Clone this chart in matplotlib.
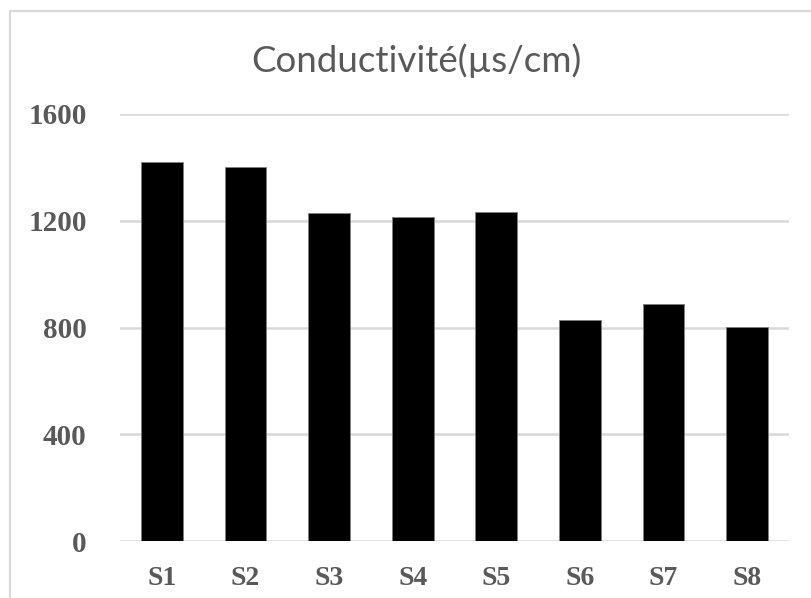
import matplotlib
matplotlib.use("Agg")
import matplotlib.pyplot as plt
from matplotlib.patches import Rectangle

stations = ["S1", "S2", "S3", "S4", "S5", "S6", "S7", "S8"]
conductivite = [1421, 1400, 1228, 1213, 1232, 827, 887, 803]
yticks = [0, 400, 800, 1200, 1600]

W, H = 811, 598
fig = plt.figure(figsize=(W / 100, H / 100), dpi=100)

# cadre gris du graphique (coupé à droite et en bas)
fig.patches.append(Rectangle((10 / W, -0.05), 1.2, 1 - 11 / H + 0.05,
                             transform=fig.transFigure, fill=False,
                             edgecolor="#d9d9d9", linewidth=1.6))

ax = fig.add_axes([120 / W, 1 - 541 / H, (789 - 120) / W, (541 - 114) / H])
ax.bar(range(len(stations)), conductivite, width=0.5, color="black",
       edgecolor="#7f7f7f", linewidth=0.6, zorder=3)

ax.set_xlim(-0.5, len(stations) - 0.5)
ax.set_ylim(0, 1600)
ax.set_yticks(yticks)
ax.set_xticks(range(len(stations)))
ax.set_xticklabels(stations)
ax.grid(axis="y", color="#d9d9d9", linewidth=1.8, zorder=0)
for s in ax.spines.values():
    s.set_visible(False)
ax.tick_params(length=0)
ax.tick_params(axis="y", pad=24)
ax.tick_params(axis="x", pad=18)
for lab in ax.get_yticklabels():
    lab.set_fontsize(21)
for lab in ax.get_xticklabels():
    lab.set_fontsize(20)
for lab in ax.get_yticklabels() + ax.get_xticklabels():
    lab.set_fontfamily("Liberation Serif")
    lab.set_fontweight("bold")
    lab.set_color("#595959")

fig.text(416.5 / W, 1 - 61 / H, "Conductivité(µs/cm)", ha="center", va="center",
         fontsize=26.5, color="#595959", family="Lato")

fig.savefig("out.png", dpi=100)
